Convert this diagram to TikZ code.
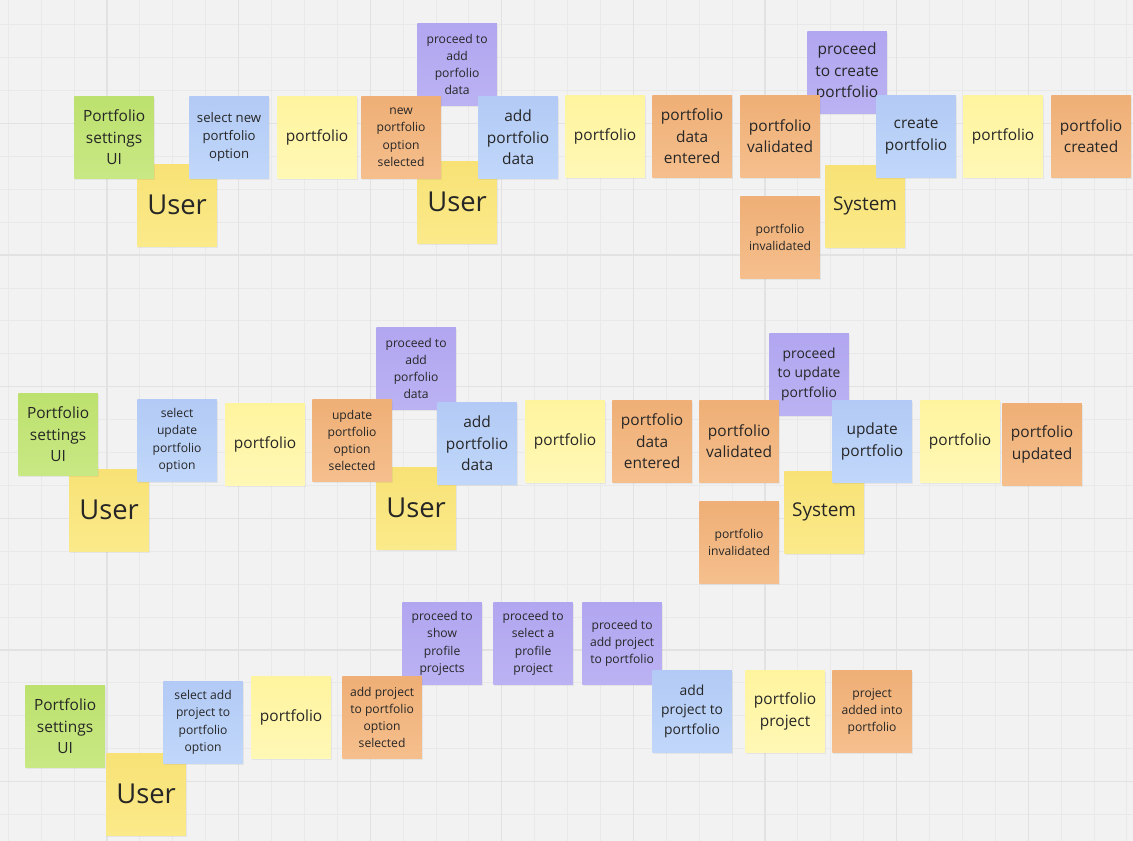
\documentclass[tikz,border=0pt]{standalone}
\usepackage{fontspec}
\setmainfont{Open Sans}
\usetikzlibrary{shadows}

\definecolor{board}{HTML}{F2F2F2}
\definecolor{gridfinec}{HTML}{E9E9E9}
\definecolor{gridboldc}{HTML}{E2E2E2}
\definecolor{inktext}{HTML}{262626}
\definecolor{uitop}{RGB}{189,225,110}
\definecolor{uibot}{RGB}{200,232,132}
\definecolor{actortop}{RGB}{248,226,118}
\definecolor{actorbot}{RGB}{251,234,138}
\definecolor{aggtop}{RGB}{255,244,158}
\definecolor{aggbot}{RGB}{255,248,182}
\definecolor{cmdtop}{RGB}{178,202,245}
\definecolor{cmdbot}{RGB}{193,215,250}
\definecolor{evttop}{RGB}{239,175,118}
\definecolor{evtbot}{RGB}{245,191,141}
\definecolor{poltop}{RGB}{177,166,240}
\definecolor{polbot}{RGB}{187,178,243}

\tikzset{
  sticky/.style={anchor=north west, minimum width=1.59cm, minimum height=1.64cm,
    inner sep=1pt, align=center, text=inktext,
    drop shadow={opacity=0.12, shadow xshift=0.4pt, shadow yshift=-0.9pt}},
  uinote/.style={sticky, top color=uitop, bottom color=uibot},
  actor/.style={sticky, top color=actortop, bottom color=actorbot},
  aggnote/.style={sticky, top color=aggtop, bottom color=aggbot},
  cmdnote/.style={sticky, top color=cmdtop, bottom color=cmdbot},
  evtnote/.style={sticky, top color=evttop, bottom color=evtbot},
  polnote/.style={sticky, top color=poltop, bottom color=polbot},
  tsmall/.style={font=\fontsize{6.9}{9.8}\selectfont},
  tnarrow/.style={font=\fontsize{7.5}{10.3}\selectfont},
  tmid/.style={font=\fontsize{7.9}{10.9}\selectfont},
  tbig/.style={font=\fontsize{8.8}{12.2}\selectfont},
  tsys/.style={font=\fontsize{10.8}{13}\selectfont},
  tuser/.style={font=\fontsize{15.6}{18}\selectfont},
  gridfine/.style={draw=gridfinec, line width=0.5pt},
  gridbold/.style={draw=gridboldc, line width=0.7pt}
}

\begin{document}
\begin{tikzpicture}[x=0.02cm, y=-0.02cm]
  \useasboundingbox (0,0) rectangle (1133,841);
  \fill[board] (0,0) rectangle (1133,841);

  %% board grid
  \foreach \i in {0,...,34}
    \draw[gridfine] ({8.3+32.9*\i},0) -- ++(0,841);
  \foreach \j in {0,...,24}
    \draw[gridfine] (0,{24.8+32.9*\j}) -- ++(1133,0);
  \foreach \i in {0,...,7}
    \draw[gridbold] ({107+131.6*\i},0) -- ++(0,841);
  \foreach \j in {0,...,5}
    \draw[gridbold] (0,{123.5+131.6*\j}) -- ++(1133,0);

  %% row 1 : create portfolio
  % policies and actors sit underneath
  \node[polnote, tsmall] (pollone) at (417,23) {proceed to\\add\\porfolio\\data};
  \node[polnote, tbig] (polltwo) at (807,31) {proceed\\to create\\portfolio};
  \node[actor, tuser] (userone) at (137,164) {User};
  \node[actor, tuser] (usertwo) at (417,161) {User};
  \node[actor, tsys] (sysone) at (825,165) {System};

  \node[uinote, tbig] (uione) at (74,96) {Portfolio\\settings\\UI};
  \node[cmdnote, tnarrow] (selnew) at (189,96) {select new\\portfolio\\option};
  \node[aggnote, tbig] (aggone) at (277,96) {portfolio};
  \node[evtnote, tsmall] (newsel) at (361,96) {new\\portfolio\\option\\selected};
  \node[cmdnote, tbig] (addone) at (478,96) {add\\portfolio\\data};
  \node[aggnote, tbig] (aggtwo) at (565,95) {portfolio};
  \node[evtnote, tbig] (enterone) at (652,95) {portfolio\\data\\entered};
  \node[evtnote, tbig] (validone) at (740,95) {portfolio\\validated};
  \node[evtnote, tsmall] (invalone) at (740,196) {portfolio\\invalidated};
  \node[cmdnote, tbig] (create) at (876,95) {create\\portfolio};
  \node[aggnote, tbig] (aggthree) at (963,95) {portfolio};
  \node[evtnote, tbig] (created) at (1051,95) {portfolio\\created};

  %% row 2 : update portfolio
  \node[polnote, tsmall] (polmone) at (376,327) {proceed to\\add\\porfolio\\data};
  \node[polnote, tmid] (polmtwo) at (769,333) {proceed\\to update\\portfolio};
  \node[actor, tuser] (userthree) at (69,469) {User};
  \node[actor, tuser] (userfour) at (376,467) {User};
  \node[actor, tsys] (systwo) at (784,471) {System};

  \node[uinote, tbig] (uitwo) at (18,393) {Portfolio\\settings\\UI};
  \node[cmdnote, tsmall] (selupd) at (137,399) {select\\update\\portfolio\\option};
  \node[aggnote, tbig] (aggfour) at (225,403) {portfolio};
  \node[evtnote, tsmall] (updsel) at (312,399) {update\\portfolio\\option\\selected};
  \node[cmdnote, tbig] (addtwo) at (437,402) {add\\portfolio\\data};
  \node[aggnote, tbig] (aggfive) at (525,400) {portfolio};
  \node[evtnote, tbig] (entertwo) at (612,400) {portfolio\\data\\entered};
  \node[evtnote, tbig] (validtwo) at (699,400) {portfolio\\validated};
  \node[evtnote, tsmall] (invaltwo) at (699,501) {portfolio\\invalidated};
  \node[cmdnote, tbig] (update) at (832,400) {update\\portfolio};
  \node[aggnote, tbig] (aggsix) at (920,400) {portfolio};
  \node[evtnote, tbig] (updated) at (1002,403) {portfolio\\updated};

  %% row 3 : add project to portfolio
  \node[polnote, tsmall] (polbone) at (402,602) {proceed to\\show\\profile\\projects};
  \node[polnote, tsmall] (polbtwo) at (493,602) {proceed to\\select a\\profile\\project};
  \node[polnote, tsmall] (polbthree) at (582,602) {proceed to\\add project\\to portfolio};
  \node[actor, tuser] (userfive) at (106,753) {User};

  \node[uinote, tbig] (uithree) at (25,685) {Portfolio\\settings\\UI};
  \node[cmdnote, tsmall] (selproj) at (163,681) {select add\\project to\\portfolio\\option};
  \node[aggnote, tbig] (aggseven) at (251,676) {portfolio};
  \node[evtnote, tsmall] (projsel) at (342,676) {add project\\to portfolio\\option\\selected};
  \node[cmdnote, tmid] (addproj) at (652,670) {add\\project to\\portfolio};
  \node[aggnote, tbig] (aggproj) at (745,670) {portfolio\\project};
  \node[evtnote, tsmall] (projadded) at (832,670) {project\\added into\\portfolio};
\end{tikzpicture}
\end{document}
